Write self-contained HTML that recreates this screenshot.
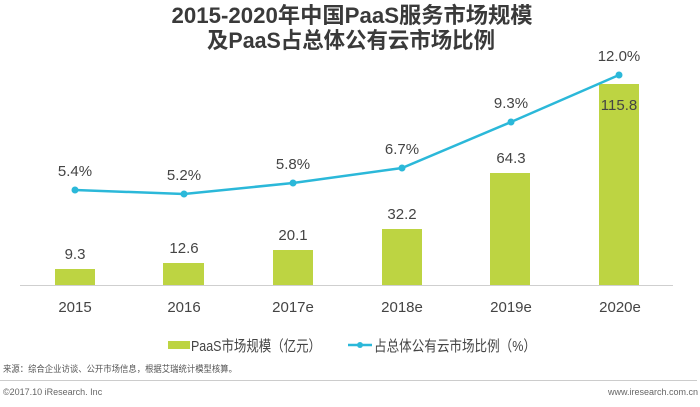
<!DOCTYPE html>
<html><head><meta charset="utf-8"><style>
body{margin:0;background:#fff;}
svg text{font-family:"Liberation Sans","Noto Sans CJK SC",sans-serif;}
</style></head><body>
<svg width="700" height="402" viewBox="0 0 700 402" xmlns="http://www.w3.org/2000/svg">
<rect width="700" height="402" fill="#fff"/>
<g font-weight="bold" font-size="22" fill="#3a3a3a" text-anchor="middle">
<text x="352" y="23" textLength="361" lengthAdjust="spacingAndGlyphs">2015-2020年中国PaaS服务市场规模</text>
<text x="351" y="48" textLength="288" lengthAdjust="spacingAndGlyphs">及PaaS占总体公有云市场比例</text>
</g>
<line x1="20" y1="285.5" x2="673" y2="285.5" stroke="#cfcfcf" stroke-width="1"/>
<g fill="#bdd442">
<rect x="55" y="269" width="40" height="16"/>
<rect x="163" y="263" width="41" height="22"/>
<rect x="273" y="250" width="40" height="35"/>
<rect x="382" y="229" width="40" height="56"/>
<rect x="490" y="173" width="40" height="112"/>
<rect x="599" y="84" width="40" height="201"/>
</g>
<g font-size="15" fill="#444" text-anchor="middle">
<text x="75" y="259">9.3</text>
<text x="184" y="253">12.6</text>
<text x="293" y="240">20.1</text>
<text x="402" y="219">32.2</text>
<text x="511" y="163">64.3</text>
<text x="619" y="110">115.8</text>
<text x="75" y="176">5.4%</text>
<text x="184" y="180">5.2%</text>
<text x="293" y="169">5.8%</text>
<text x="402" y="154">6.7%</text>
<text x="511" y="108">9.3%</text>
<text x="619" y="61">12.0%</text>
<text x="75" y="312">2015</text>
<text x="184" y="312">2016</text>
<text x="293" y="312">2017e</text>
<text x="402" y="312">2018e</text>
<text x="511" y="312">2019e</text>
<text x="620" y="312">2020e</text>
</g>
<polyline points="75,190 184,194 293,183 402,168 511,122 619,75" fill="none" stroke="#2bb8d9" stroke-width="2.5"/>
<g fill="#2bb8d9">
<circle cx="75" cy="190" r="3.5"/><circle cx="184" cy="194" r="3.5"/><circle cx="293" cy="183" r="3.5"/>
<circle cx="402" cy="168" r="3.5"/><circle cx="511" cy="122" r="3.5"/><circle cx="619" cy="75" r="3.5"/>
</g>
<rect x="168" y="341" width="22" height="8" fill="#bdd442"/>
<text x="191" y="351" font-size="15" fill="#444" textLength="130" lengthAdjust="spacingAndGlyphs">PaaS市场规模（亿元）</text>
<line x1="348" y1="345" x2="372" y2="345" stroke="#2bb8d9" stroke-width="2.5"/>
<circle cx="360" cy="345" r="3" fill="#2bb8d9"/>
<text x="374" y="351" font-size="15" fill="#444" textLength="162" lengthAdjust="spacingAndGlyphs">占总体公有云市场比例（%）</text>
<text x="3" y="372" font-size="9" fill="#555" textLength="234" lengthAdjust="spacingAndGlyphs">来源：综合企业访谈、公开市场信息，根据艾瑞统计模型核算。</text>
<line x1="0" y1="380.5" x2="697" y2="380.5" stroke="#ccc" stroke-width="1"/>
<text x="3" y="395" font-size="9" fill="#666">©2017.10 iResearch. Inc</text>
<text x="698" y="395" font-size="9" fill="#666" text-anchor="end">www.iresearch.com.cn</text>
</svg>
</body></html>
